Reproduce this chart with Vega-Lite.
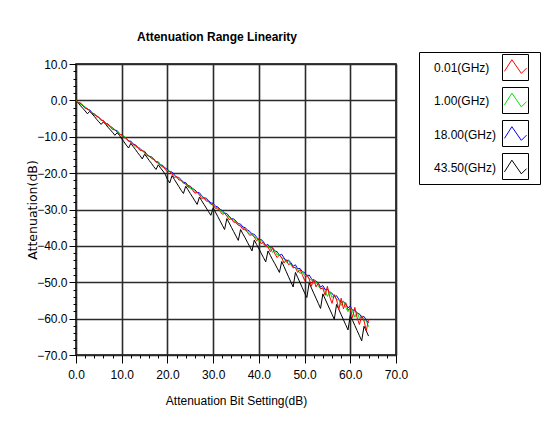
{
  "$schema": "https://vega.github.io/schema/vega-lite/v6.json",
  "autosize": {"type": "none"},
  "width": 320,
  "height": 291,
  "padding": {"left": 76, "top": 64, "right": 162, "bottom": 92},
  "background": "white",
  "title": {"text": "Attenuation Range Linearity", "frame": "group", "anchor": "middle", "dx": -19, "offset": -1, "baseline": "alphabetic", "font": "Liberation Sans", "fontSize": 12, "fontWeight": "bold", "color": "black"},
  "config": {
    "view": {"stroke": "black", "strokeWidth": 1.5},
    "axis": {"labelFont": "Liberation Sans", "labelColor": "black", "titleColor": "black", "titleFontWeight": "normal", "labelFlush": false}
  },
  "data": {"values": [
    {"x":0,"r":0,"g":0,"b":0,"k":0},
    {"x":0.5,"r":-0.7,"g":-0.5,"b":-0.6,"k":-0.7},
    {"x":1,"r":-0.7,"g":-1.2,"b":-0.8,"k":-1.5},
    {"x":1.5,"r":-1.5,"g":-1.2,"b":-1.5,"k":-2.2},
    {"x":2,"r":-2.2,"g":-2.0,"b":-1.8,"k":-2.9},
    {"x":2.5,"r":-2.3,"g":-2.2,"b":-2.5,"k":-3.7},
    {"x":3,"r":-2.9,"g":-2.9,"b":-2.6,"k":-3.0},
    {"x":3.5,"r":-3.6,"g":-3.3,"b":-3.4,"k":-3.7},
    {"x":4,"r":-3.6,"g":-4.0,"b":-4.0,"k":-4.4},
    {"x":4.5,"r":-4.5,"g":-4.1,"b":-4.2,"k":-5.2},
    {"x":5,"r":-4.6,"g":-4.9,"b":-4.7,"k":-5.9},
    {"x":5.5,"r":-5.3,"g":-5.5,"b":-5.5,"k":-6.6},
    {"x":6,"r":-5.7,"g":-5.6,"b":-5.5,"k":-5.9},
    {"x":6.5,"r":-6.5,"g":-6.2,"b":-6.3,"k":-6.6},
    {"x":7,"r":-6.5,"g":-7.0,"b":-6.5,"k":-7.4},
    {"x":7.5,"r":-7.3,"g":-7.0,"b":-7.2,"k":-8.1},
    {"x":8,"r":-8.0,"g":-7.8,"b":-7.5,"k":-8.8},
    {"x":8.5,"r":-8.1,"g":-8.0,"b":-8.2,"k":-9.6},
    {"x":9,"r":-8.7,"g":-8.7,"b":-8.3,"k":-8.9},
    {"x":9.5,"r":-9.4,"g":-9.0,"b":-9.1,"k":-9.6},
    {"x":10,"r":-9.4,"g":-9.8,"b":-9.7,"k":-10.6},
    {"x":10.5,"r":-10.3,"g":-9.8,"b":-9.9,"k":-11.4},
    {"x":11,"r":-10.4,"g":-10.6,"b":-10.4,"k":-12.3},
    {"x":11.5,"r":-11.1,"g":-11.3,"b":-11.2,"k":-13.1},
    {"x":12,"r":-11.5,"g":-11.4,"b":-11.2,"k":-11.8},
    {"x":12.5,"r":-12.2,"g":-12.0,"b":-12.0,"k":-12.7},
    {"x":13,"r":-12.3,"g":-12.8,"b":-12.2,"k":-13.5},
    {"x":13.5,"r":-13.1,"g":-12.7,"b":-12.9,"k":-14.4},
    {"x":14,"r":-13.7,"g":-13.6,"b":-13.2,"k":-15.2},
    {"x":14.5,"r":-13.8,"g":-13.7,"b":-13.9,"k":-16.1},
    {"x":15,"r":-14.4,"g":-14.4,"b":-14.0,"k":-14.8},
    {"x":15.5,"r":-15.2,"g":-14.8,"b":-14.8,"k":-15.6},
    {"x":16,"r":-15.2,"g":-15.5,"b":-15.4,"k":-16.5},
    {"x":16.5,"r":-16.0,"g":-15.6,"b":-15.5,"k":-17.3},
    {"x":17,"r":-16.2,"g":-16.4,"b":-16.1,"k":-18.2},
    {"x":17.5,"r":-16.9,"g":-17.0,"b":-16.9,"k":-19.0},
    {"x":18,"r":-17.3,"g":-17.1,"b":-16.9,"k":-17.7},
    {"x":18.5,"r":-18.0,"g":-17.7,"b":-17.7,"k":-18.6},
    {"x":19,"r":-18.1,"g":-18.5,"b":-17.9,"k":-19.4},
    {"x":19.5,"r":-18.9,"g":-18.5,"b":-18.6,"k":-20.3},
    {"x":20,"r":-19.7,"g":-19.3,"b":-18.9,"k":-21.7},
    {"x":20.5,"r":-19.5,"g":-19.5,"b":-19.6,"k":-22.7},
    {"x":21,"r":-20.2,"g":-20.2,"b":-19.7,"k":-20.7},
    {"x":21.5,"r":-21.2,"g":-20.5,"b":-20.5,"k":-21.7},
    {"x":22,"r":-20.9,"g":-21.3,"b":-21.1,"k":-22.7},
    {"x":22.5,"r":-21.9,"g":-21.3,"b":-21.2,"k":-23.7},
    {"x":23,"r":-21.9,"g":-22.1,"b":-21.8,"k":-24.7},
    {"x":23.5,"r":-22.7,"g":-22.8,"b":-22.5,"k":-25.6},
    {"x":24,"r":-23.0,"g":-22.9,"b":-22.6,"k":-23.6},
    {"x":24.5,"r":-23.9,"g":-23.5,"b":-23.4,"k":-24.6},
    {"x":25,"r":-23.7,"g":-24.3,"b":-23.6,"k":-25.6},
    {"x":25.5,"r":-24.7,"g":-24.3,"b":-24.2,"k":-26.6},
    {"x":26,"r":-25.5,"g":-25.1,"b":-24.6,"k":-27.6},
    {"x":26.5,"r":-25.3,"g":-25.3,"b":-25.3,"k":-28.6},
    {"x":27,"r":-26.0,"g":-25.9,"b":-25.4,"k":-26.6},
    {"x":27.5,"r":-27.0,"g":-26.3,"b":-26.2,"k":-27.6},
    {"x":28,"r":-26.7,"g":-27.1,"b":-26.8,"k":-28.6},
    {"x":28.5,"r":-27.7,"g":-27.1,"b":-26.9,"k":-29.6},
    {"x":29,"r":-27.7,"g":-27.9,"b":-27.5,"k":-30.6},
    {"x":29.5,"r":-28.5,"g":-28.6,"b":-28.2,"k":-31.6},
    {"x":30,"r":-28.8,"g":-28.6,"b":-28.3,"k":-29.6},
    {"x":30.5,"r":-29.7,"g":-29.2,"b":-29.1,"k":-30.7},
    {"x":31,"r":-29.5,"g":-30.0,"b":-29.3,"k":-31.9},
    {"x":31.5,"r":-30.5,"g":-30.0,"b":-29.9,"k":-33.1},
    {"x":32,"r":-31.3,"g":-30.8,"b":-30.3,"k":-34.3},
    {"x":32.5,"r":-31.1,"g":-31.0,"b":-31.0,"k":-35.5},
    {"x":33,"r":-31.8,"g":-31.7,"b":-31.1,"k":-32.5},
    {"x":33.5,"r":-32.8,"g":-32.1,"b":-31.9,"k":-33.7},
    {"x":34,"r":-32.5,"g":-32.8,"b":-32.5,"k":-34.9},
    {"x":34.5,"r":-33.5,"g":-32.8,"b":-32.6,"k":-36.1},
    {"x":35,"r":-33.5,"g":-33.7,"b":-33.2,"k":-37.3},
    {"x":35.5,"r":-34.3,"g":-34.3,"b":-33.9,"k":-38.5},
    {"x":36,"r":-34.6,"g":-34.4,"b":-34.0,"k":-35.5},
    {"x":36.5,"r":-35.5,"g":-35.0,"b":-34.8,"k":-36.7},
    {"x":37,"r":-35.3,"g":-35.8,"b":-35.0,"k":-37.8},
    {"x":37.5,"r":-36.3,"g":-35.8,"b":-35.6,"k":-39.0},
    {"x":38,"r":-37.1,"g":-36.6,"b":-36.0,"k":-40.2},
    {"x":38.5,"r":-36.9,"g":-36.8,"b":-36.7,"k":-41.4},
    {"x":39,"r":-37.6,"g":-37.5,"b":-36.8,"k":-38.4},
    {"x":39.5,"r":-38.6,"g":-37.8,"b":-37.6,"k":-39.6},
    {"x":40,"r":-38.0,"g":-38.8,"b":-38.4,"k":-40.8},
    {"x":40.5,"r":-39.4,"g":-38.3,"b":-38.2,"k":-42.0},
    {"x":41,"r":-39.0,"g":-39.5,"b":-38.9,"k":-43.2},
    {"x":41.5,"r":-40.1,"g":-40.3,"b":-39.9,"k":-44.4},
    {"x":42,"r":-40.3,"g":-40.0,"b":-39.6,"k":-41.4},
    {"x":42.5,"r":-41.6,"g":-40.7,"b":-40.6,"k":-42.6},
    {"x":43,"r":-40.7,"g":-41.8,"b":-40.5,"k":-43.8},
    {"x":43.5,"r":-42.2,"g":-41.3,"b":-41.4,"k":-44.9},
    {"x":44,"r":-43.2,"g":-42.5,"b":-41.6,"k":-46.1},
    {"x":44.5,"r":-42.5,"g":-42.4,"b":-42.6,"k":-47.3},
    {"x":45,"r":-43.3,"g":-43.3,"b":-42.3,"k":-44.3},
    {"x":45.5,"r":-44.7,"g":-43.5,"b":-43.3,"k":-45.7},
    {"x":46,"r":-43.8,"g":-44.5,"b":-44.1,"k":-47.1},
    {"x":46.5,"r":-45.2,"g":-44.1,"b":-43.9,"k":-48.5},
    {"x":47,"r":-44.8,"g":-45.2,"b":-44.6,"k":-49.9},
    {"x":47.5,"r":-45.9,"g":-46.1,"b":-45.6,"k":-51.3},
    {"x":48,"r":-46.0,"g":-45.8,"b":-45.2,"k":-47.3},
    {"x":48.5,"r":-47.3,"g":-46.5,"b":-46.3,"k":-48.7},
    {"x":49,"r":-46.5,"g":-47.6,"b":-46.2,"k":-50.1},
    {"x":49.5,"r":-47.9,"g":-47.1,"b":-47.1,"k":-51.5},
    {"x":50,"r":-49.5,"g":-48.2,"b":-47.3,"k":-52.9},
    {"x":50.5,"r":-47.9,"g":-48.1,"b":-48.3,"k":-54.2},
    {"x":51,"r":-49.1,"g":-49.0,"b":-48.0,"k":-50.2},
    {"x":51.5,"r":-51.1,"g":-49.3,"b":-49.0,"k":-51.6},
    {"x":52,"r":-49.1,"g":-50.3,"b":-49.8,"k":-53.0},
    {"x":52.5,"r":-51.3,"g":-49.9,"b":-49.6,"k":-54.4},
    {"x":53,"r":-50.2,"g":-51.0,"b":-50.3,"k":-55.8},
    {"x":53.5,"r":-51.8,"g":-51.8,"b":-51.3,"k":-57.2},
    {"x":54,"r":-51.6,"g":-51.5,"b":-50.9,"k":-53.2},
    {"x":54.5,"r":-53.6,"g":-52.3,"b":-52.0,"k":-54.6},
    {"x":55,"r":-51.1,"g":-53.9,"b":-51.9,"k":-56.0},
    {"x":55.5,"r":-54.0,"g":-52.4,"b":-52.8,"k":-57.4},
    {"x":56,"r":-55.8,"g":-54.2,"b":-53.0,"k":-58.8},
    {"x":56.5,"r":-53.4,"g":-53.5,"b":-54.0,"k":-60.2},
    {"x":57,"r":-54.8,"g":-54.8,"b":-53.7,"k":-56.1},
    {"x":57.5,"r":-57.5,"g":-54.8,"b":-54.7,"k":-57.5},
    {"x":58,"r":-54.4,"g":-56.4,"b":-55.5,"k":-58.9},
    {"x":58.5,"r":-57.3,"g":-55.1,"b":-55.3,"k":-60.3},
    {"x":59,"r":-55.6,"g":-56.9,"b":-56.0,"k":-61.7},
    {"x":59.5,"r":-57.6,"g":-58.1,"b":-57.0,"k":-63.1},
    {"x":60,"r":-57.2,"g":-57.0,"b":-56.6,"k":-59.1},
    {"x":60.5,"r":-59.7,"g":-58.0,"b":-57.7,"k":-60.5},
    {"x":61,"r":-56.9,"g":-59.6,"b":-57.6,"k":-61.9},
    {"x":61.5,"r":-59.8,"g":-58.2,"b":-58.5,"k":-63.3},
    {"x":62,"r":-61.6,"g":-60.0,"b":-58.7,"k":-64.7},
    {"x":62.5,"r":-59.2,"g":-59.3,"b":-59.7,"k":-66.1},
    {"x":63,"r":-60.6,"g":-60.6,"b":-59.4,"k":-62.1},
    {"x":63.5,"r":-63.3,"g":-60.6,"b":-60.4,"k":-63.4},
    {"x":64,"r":-60.2,"g":-62.2,"b":-61.2,"k":-64.8}
  ]},
  "transform": [{"fold": ["k", "b", "g", "r"], "as": ["key", "y"]}],
  "resolve": {"axis": {"x": "independent", "y": "independent"}},
  "layer": [
    {
      "mark": {"type": "line", "strokeWidth": 1},
      "encoding": {
        "x": {"field": "x", "type": "quantitative", "scale": {"domain": [0, 70], "nice": false, "zero": false},
          "axis": {"orient": "bottom", "values": [0,10,20,30,40,50,60,70], "format": ".1f", "grid": true, "gridColor": "#2b2b2b", "gridWidth": 1.6, "domain": false, "tickColor": "black", "tickSize": 8, "labelFontSize": 12, "labelPadding": 6, "title": "Attenuation Bit Setting(dB)", "titleFont": "Liberation Sans", "titleFontSize": 12, "titlePadding": 15}},
        "y": {"field": "y", "type": "quantitative", "scale": {"domain": [-70, 10], "nice": false, "zero": false},
          "axis": {"orient": "left", "values": [-70,-60,-50,-40,-30,-20,-10,0,10], "format": ".1f", "grid": true, "gridColor": "#2b2b2b", "gridWidth": 1.6, "domain": false, "tickColor": "black", "tickSize": 7, "labelFontSize": 12, "labelPadding": 2, "title": "Attenuation(dB)", "titleFont": "DejaVu Sans", "titleFontSize": 12.5, "titlePadding": -3}},
        "color": {"field": "key", "type": "nominal",
          "scale": {"domain": ["r", "g", "b", "k"], "range": ["#ff0000", "#00e000", "#0000ff", "#000000"]},
          "legend": {"orient": "none", "legendX": 343, "legendY": -12, "title": null, "padding": 2, "rowPadding": 11.5,
            "symbolType": "M-0.85,0.3L-0.28,-0.6L0.45,0.45L0.85,0.05", "symbolSize": 676, "symbolStrokeWidth": 1, "symbolFillColor": "transparent", "symbolOffset": 81,
            "labelOffset": -95, "labelAlign": "left", "labelFont": "Liberation Sans", "labelFontSize": 12, "labelColor": "black",
            "labelExpr": "{'r':'0.01(GHz)','g':'1.00(GHz)','b':'18.00(GHz)','k':'43.50(GHz)'}[datum.label]"}}
      }
    },
    {
      "transform": [{"filter": "datum.x == 0"}],
      "mark": {"type": "point", "opacity": 0, "filled": false},
      "encoding": {
        "x": {"field": "x", "type": "quantitative",
          "axis": {"orient": "bottom", "values": [2,4,6,8,12,14,16,18,22,24,26,28,32,34,36,38,42,44,46,48,52,54,56,58,62,64,66,68], "labels": false, "grid": false, "domain": false, "ticks": true, "tickSize": 3, "tickColor": "black", "title": null}},
        "y": {"field": "y", "type": "quantitative",
          "axis": {"orient": "left", "values": [-68,-66,-64,-62,-58,-56,-54,-52,-48,-46,-44,-42,-38,-36,-34,-32,-28,-26,-24,-22,-18,-16,-14,-12,-8,-6,-4,-2,2,4,6,8], "labels": false, "grid": false, "domain": false, "ticks": true, "tickSize": 3, "tickColor": "black", "title": null}},
        "shape": {"field": "key", "type": "nominal",
          "scale": {"domain": ["k", "b", "g", "r"], "range": ["square", "square", "square", "square"]},
          "legend": {"orient": "none", "legendX": 343, "legendY": -12, "title": null, "padding": 2, "rowPadding": 2,
            "strokeColor": "black",
            "encode": {"legend": {"update": {"strokeWidth": {"value": 2}}}},
            "symbolSize": 676, "symbolStrokeWidth": 1, "symbolStrokeColor": "black", "symbolFillColor": "transparent", "symbolOpacity": 1, "symbolOffset": 81,
            "labelOffset": 9, "labelAlign": "right", "labelFont": "Liberation Sans", "labelFontSize": 12, "labelColor": "transparent",
            "labelExpr": "{'r':'0.01(GHz)','g':'1.00(GHz)','b':'18.00(GHz)','k':'43.50(GHz)'}[datum.label]"}}
      }
    }
  ]
}
